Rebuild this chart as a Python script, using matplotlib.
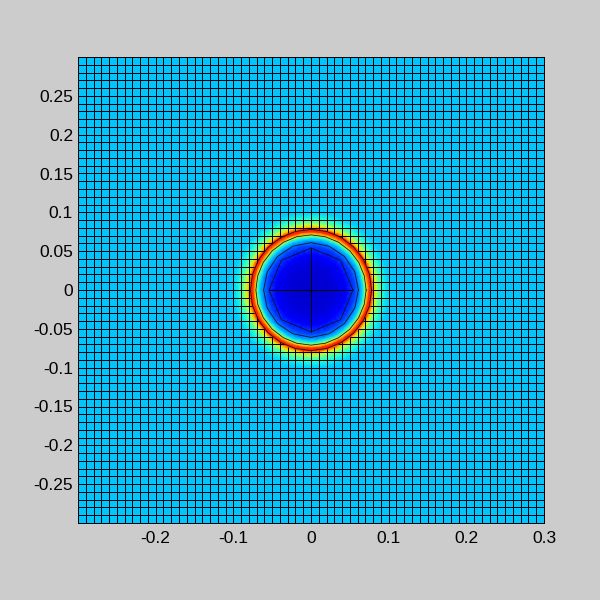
import numpy as np
import matplotlib
matplotlib.use("Agg")
import matplotlib.pyplot as plt
import matplotlib.tri as mtri

plt.rcParams['font.family'] = ['Liberation Sans', 'DejaVu Sans']

x_ticks = [-0.2, -0.1, 0, 0.1, 0.2, 0.3]
x_labels = ["-0.2", "-0.1", "0", "0.1", "0.2", "0.3"]
y_ticks = [-0.25, -0.2, -0.15, -0.1, -0.05, 0, 0.05, 0.1, 0.15, 0.2, 0.25]
y_labels = ["-0.25", "-0.2", "-0.15", "-0.1", "-0.05", "0", "0.05", "0.1", "0.15", "0.2", "0.25"]

# radial profile of the field
ring_radius = [0.0, 0.030, 0.045, 0.056, 0.062, 0.066, 0.069, 0.072, 0.075, 0.078, 0.081, 0.084, 0.087, 0.092, 0.100]
ring_value = [0.06, 0.08, 0.12, 0.19, 0.26, 0.34, 0.48, 0.70, 0.86, 0.88, 0.70, 0.58, 0.48, 0.39, 0.33]
background_value = 0.32

# black polygon rings of the mesh: radius and number of sides
mesh_ring_radius = [0.054, 0.061, 0.071, 0.078]
mesh_ring_sides = [8, 16, 24, 24]

n_cells = 60
lim = 0.3
cut_radius = 0.078

fig = plt.figure(figsize=(6, 6), dpi=100, facecolor="#cccccc")
ax = fig.add_axes([78 / 600, 77 / 600, 466 / 600, 466 / 600])

grid = np.linspace(-lim, lim, n_cells + 1)
gx, gy = np.meshgrid(grid, grid)
gr = np.hypot(gx, gy)
keep = gr > ring_radius[-1] + 0.004
px = [gx[keep]]
py = [gy[keep]]
pv = [np.full(keep.sum(), background_value)]
ang = np.linspace(0, 2 * np.pi, 72, endpoint=False)
px.append(np.array([0.0]))
py.append(np.array([0.0]))
pv.append(np.array([ring_value[0]]))
for r, v in zip(ring_radius[1:], ring_value[1:]):
    px.append(r * np.cos(ang))
    py.append(r * np.sin(ang))
    pv.append(np.full(ang.size, v))
px = np.concatenate(px)
py = np.concatenate(py)
pv = np.concatenate(pv)

tri = mtri.Triangulation(px, py)
ax.tripcolor(tri, pv, shading="gouraud", cmap="jet", vmin=0, vmax=1)

line_kw = dict(color="black", lw=0.72, solid_capstyle="butt")
ring_kw = dict(color="#101010", lw=0.55)
fine = np.linspace(-lim, lim, 601)
for g in grid:
    if abs(g) < 1e-9:
        continue
    rr = np.hypot(fine, g)
    yy = np.where(rr > cut_radius, g, np.nan)
    ax.plot(fine, yy, **line_kw)
    ax.plot(yy, fine, **line_kw)
for seg in (-1, 1):
    t = np.array([cut_radius, lim]) * seg
    ax.plot(t, [0, 0], **line_kw)
    ax.plot([0, 0], t, **line_kw)
ax.plot([-mesh_ring_radius[0], mesh_ring_radius[0]], [0, 0], **line_kw)
ax.plot([0, 0], [-mesh_ring_radius[0], mesh_ring_radius[0]], **line_kw)

for r, n in zip(mesh_ring_radius, mesh_ring_sides):
    th = np.linspace(0, 2 * np.pi, n + 1)
    ax.plot(r * np.cos(th), r * np.sin(th), **ring_kw)

ax.set_xlim(-lim, lim)
ax.set_ylim(-lim, lim)
ax.set_xticks(x_ticks, x_labels)
ax.set_yticks(y_ticks, y_labels)
ax.tick_params(length=0, labelsize=12.5)
ax.tick_params(axis="x", pad=6)
ax.tick_params(axis="y", pad=3.6)
for s in ax.spines.values():
    s.set_linewidth(0.72)

fig.savefig("out.png", dpi=100, facecolor=fig.get_facecolor())
